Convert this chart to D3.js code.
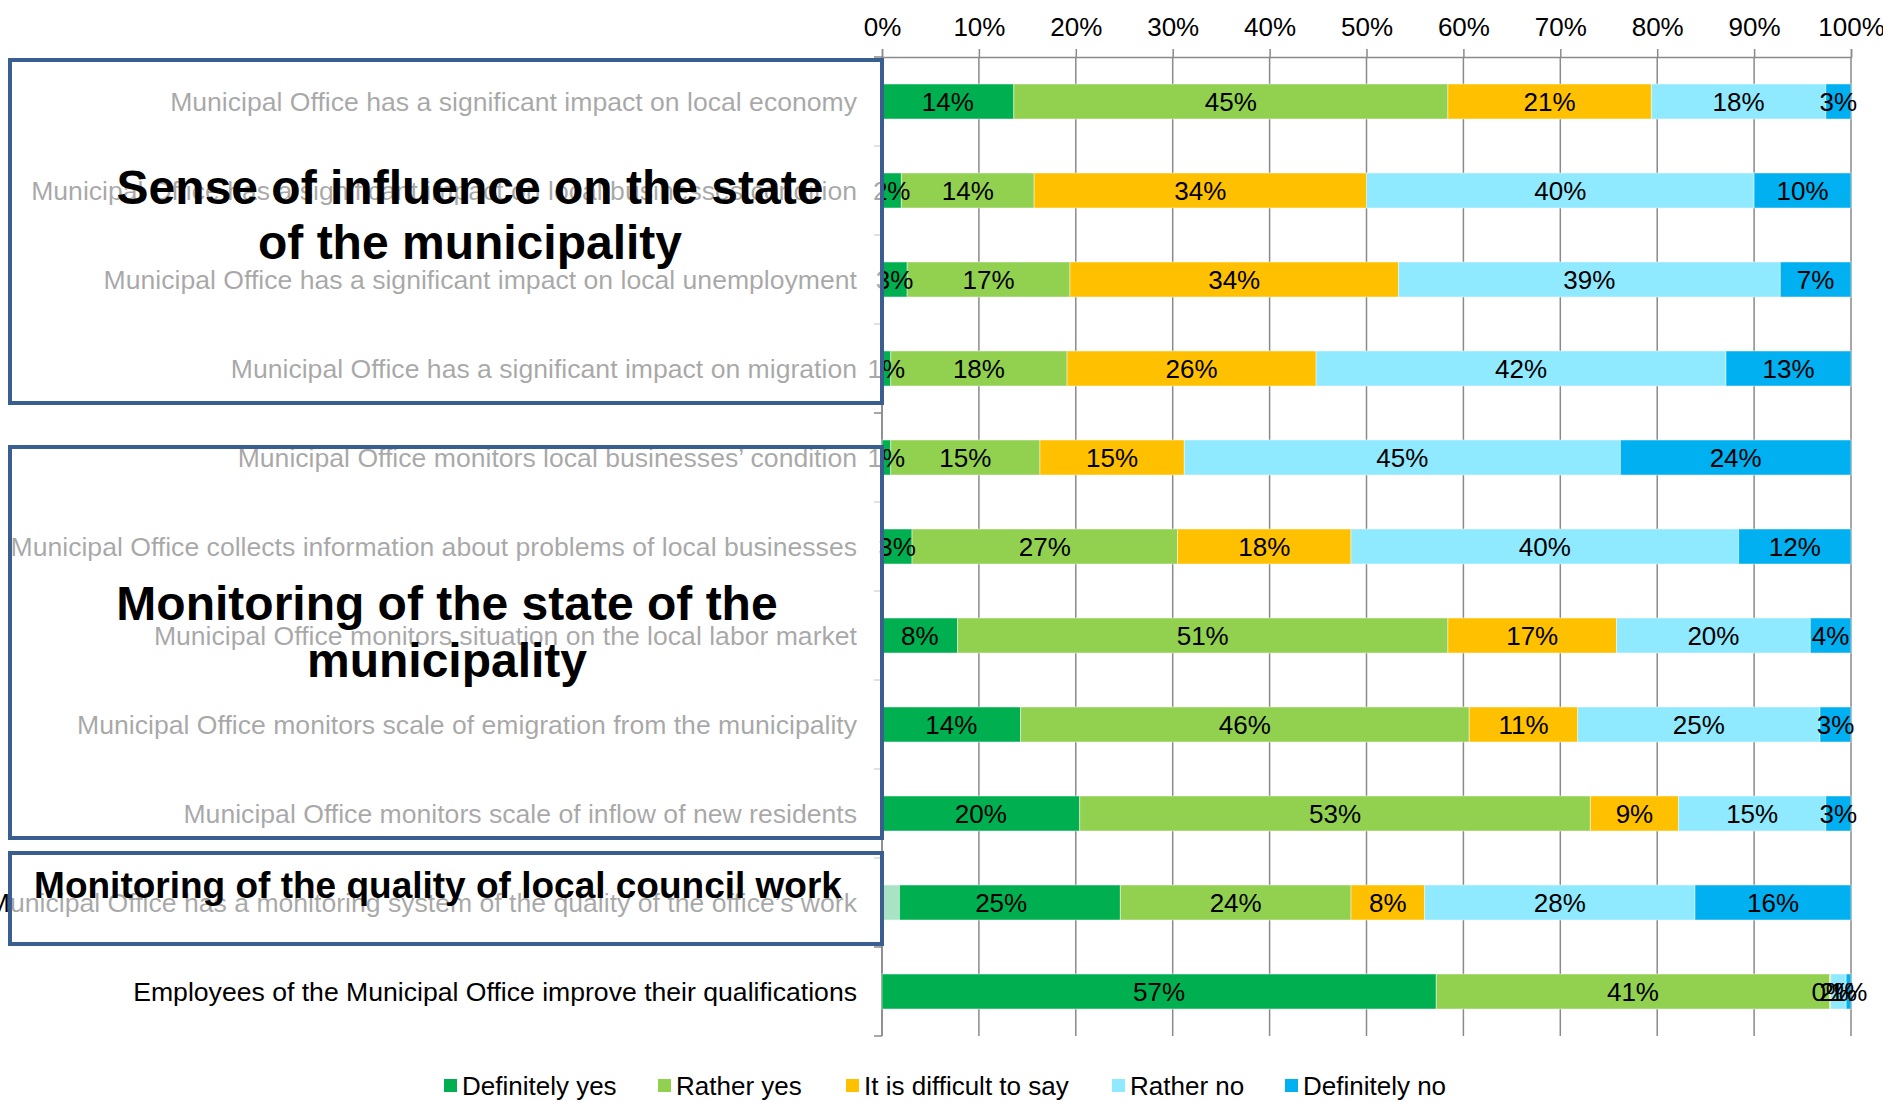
<!DOCTYPE html>
<html>
<head>
<meta charset="utf-8">
<script src="https://cdn.jsdelivr.net/npm/d3@7"></script>
<style>
  html, body { margin: 0; padding: 0; background: #ffffff; }
  svg { display: block; font-family: "Liberation Sans", Arial, sans-serif; }
</style>
</head>
<body>
<svg id="chart" width="1883" height="1102"></svg>
<script>
// ---------- DATA ----------
const categories = [
  "Municipal Office has a significant impact on local economy",
  "Municipal Office has a significant impact on local businesses condition",
  "Municipal Office has a significant impact on local unemployment",
  "Municipal Office has a significant impact on migration",
  "Municipal Office monitors local businesses’ condition",
  "Municipal Office collects information about problems of local businesses",
  "Municipal Office monitors situation on the local labor market",
  "Municipal Office monitors scale of emigration from the municipality",
  "Municipal Office monitors scale of inflow of new residents",
  "Municipal Office has a monitoring system of the quality of the office’s work",
  "Employees of the Municipal Office improve their qualifications"
];
const seriesNames = ["Definitely yes", "Rather yes", "It is difficult to say", "Rather no", "Definitely no"];
const definitelyYes = [13.6, 2.0, 2.6, 0.9, 0.9, 3.1, 7.8, 14.3, 20.4, 24.6, 57.2];
const ratherYes     = [44.8, 13.7, 16.8, 18.2, 15.4, 27.4, 50.6, 46.3, 52.7, 23.8, 40.6];
const difficult     = [21.0, 34.3, 33.9, 25.7, 14.9, 17.9, 17.4, 11.2, 9.1, 7.6, 0.1];
const ratherNo      = [18.0, 40.0, 39.4, 42.3, 45.0, 40.0, 20.0, 25.0, 15.2, 27.9, 1.6];
const definitelyNo  = [2.6, 10.0, 7.3, 12.9, 23.8, 11.6, 4.2, 3.2, 2.6, 16.1, 0.5];
const tickValues = [0, 0.1, 0.2, 0.3, 0.4, 0.5, 0.6, 0.7, 0.8, 0.9, 1.0];
const groupTitles = [
  ["Sense of influence on the state", "of the municipality"],
  ["Monitoring of the state of the", "municipality"],
  ["Monitoring of the quality of local council work"]
];

// ---------- STYLE / LAYOUT ----------
const colors = ["#00B050", "#92D050", "#FFC000", "#8FE9FF", "#00B0F0"];
const plot = { left: 882, right: 1851, top: 57, bottom: 1036 };
const seriesValues = [definitelyYes, ratherYes, difficult, ratherNo, definitelyNo];

const rows = categories.map((c, i) => {
  const o = { category: c };
  seriesNames.forEach((s, j) => { o[s] = seriesValues[j][i]; });
  return o;
});

const svg = d3.select("#chart");

const x = d3.scaleLinear().domain([0, 1]).range([plot.left, plot.right]);
const y = d3.scaleBand().domain(categories).range([plot.top, plot.bottom])
  .paddingInner(0.607).paddingOuter(0.3035);

const stack = d3.stack().keys(seriesNames).offset(d3.stackOffsetExpand);
const stacked = stack(rows);

// gridlines
svg.append("g").selectAll("line").data(tickValues).join("line")
  .attr("x1", d => x(d)).attr("x2", d => x(d))
  .attr("y1", plot.top).attr("y2", plot.bottom)
  .attr("stroke", "#8a8a8a").attr("stroke-width", 1.5);

// top axis
const axis = d3.axisTop(x).tickValues(tickValues).tickFormat(d3.format(".0%"))
  .tickSize(8).tickPadding(13.5);
const ax = svg.append("g").attr("transform", `translate(0,${plot.top})`).call(axis);
ax.select(".domain").attr("stroke", "#8a8a8a").attr("stroke-width", 1.5);
ax.selectAll(".tick line").attr("stroke", "#8a8a8a").attr("stroke-width", 1.5);
ax.selectAll(".tick text").attr("font-size", 26).attr("fill", "#000")
  .attr("font-family", "Liberation Sans, Arial, sans-serif");

// left axis line with category ticks
svg.append("line").attr("x1", plot.left).attr("x2", plot.left)
  .attr("y1", plot.top).attr("y2", plot.bottom)
  .attr("stroke", "#8a8a8a").attr("stroke-width", 1.5);
const boundaries = categories.map((c, i) => plot.top + i * y.step()).concat([plot.bottom]);
svg.append("g").selectAll("line").data(boundaries).join("line")
  .attr("x1", plot.left - 8).attr("x2", plot.left)
  .attr("y1", d => d).attr("y2", d => d)
  .attr("stroke", "#8a8a8a").attr("stroke-width", 1.5);

// bars
const layers = svg.append("g").selectAll("g").data(stacked).join("g")
  .attr("fill", (d, i) => colors[i]);
layers.selectAll("rect").data(d => d).join("rect")
  .attr("x", d => x(d[0]))
  .attr("width", d => Math.max(0, x(d[1]) - x(d[0])))
  .attr("y", d => y(d.data.category))
  .attr("height", y.bandwidth())
  .attr("stroke", "rgba(255,255,255,0.45)").attr("stroke-width", 1);

// data labels
const labelG = svg.append("g").attr("font-size", 26).attr("fill", "#000").attr("text-anchor", "middle");
stacked.forEach((layer) => {
  labelG.append("g").selectAll("text").data(layer).join("text")
    .attr("x", d => (x(d[0]) + x(d[1])) / 2)
    .attr("y", d => y(d.data.category) + y.bandwidth() / 2)
    .attr("dy", "0.36em")
    .text(d => Math.round(d.data[layer.key]) + "%");
});

// category labels
svg.append("g").selectAll("text").data(categories).join("text")
  .attr("x", plot.left - 25)
  .attr("y", d => y(d) + y.bandwidth() / 2)
  .attr("dy", "0.36em")
  .attr("text-anchor", "end")
  .attr("font-size", 26.6)
  .attr("fill", "#000")
  .text(d => d);

// group overlay boxes (semi-transparent white)
const boxes = [
  { x: 10, y: 60, w: 872, h: 343, fillW: 872, tx: 470, ty: [204, 259], fs: 48 },
  { x: 10, y: 447, w: 872, h: 391, fillW: 872, tx: 447, ty: [620, 677], fs: 48 },
  { x: 10, y: 853, w: 872, h: 91, fillW: 890, tx: 438, ty: [898], fs: 37 }
];
boxes.forEach((b, i) => {
  svg.append("rect").attr("x", b.x).attr("y", b.y).attr("width", b.fillW).attr("height", b.h)
    .attr("fill", "#ffffff").attr("fill-opacity", 0.66);
  svg.append("rect").attr("x", b.x).attr("y", b.y).attr("width", b.w).attr("height", b.h)
    .attr("fill", "none").attr("stroke", "#3B5E91").attr("stroke-width", 4);
  const t = svg.append("text").attr("text-anchor", "middle").attr("font-weight", "bold")
    .attr("font-size", b.fs).attr("fill", "#000");
  groupTitles[i].forEach((line, k) => {
    t.append("tspan").attr("x", b.tx).attr("y", b.ty[k]).text(line);
  });
});

// legend
const legendX = [444, 658, 846, 1112, 1285];
const lg = svg.append("g").selectAll("g").data(seriesNames).join("g")
  .attr("transform", (d, i) => `translate(${legendX[i]},1079)`);
lg.append("rect").attr("width", 13).attr("height", 13).attr("fill", (d, i) => colors[i]);
lg.append("text").attr("x", 18).attr("y", 16).attr("font-size", 26).attr("fill", "#000").text(d => d);
</script>
</body>
</html>
